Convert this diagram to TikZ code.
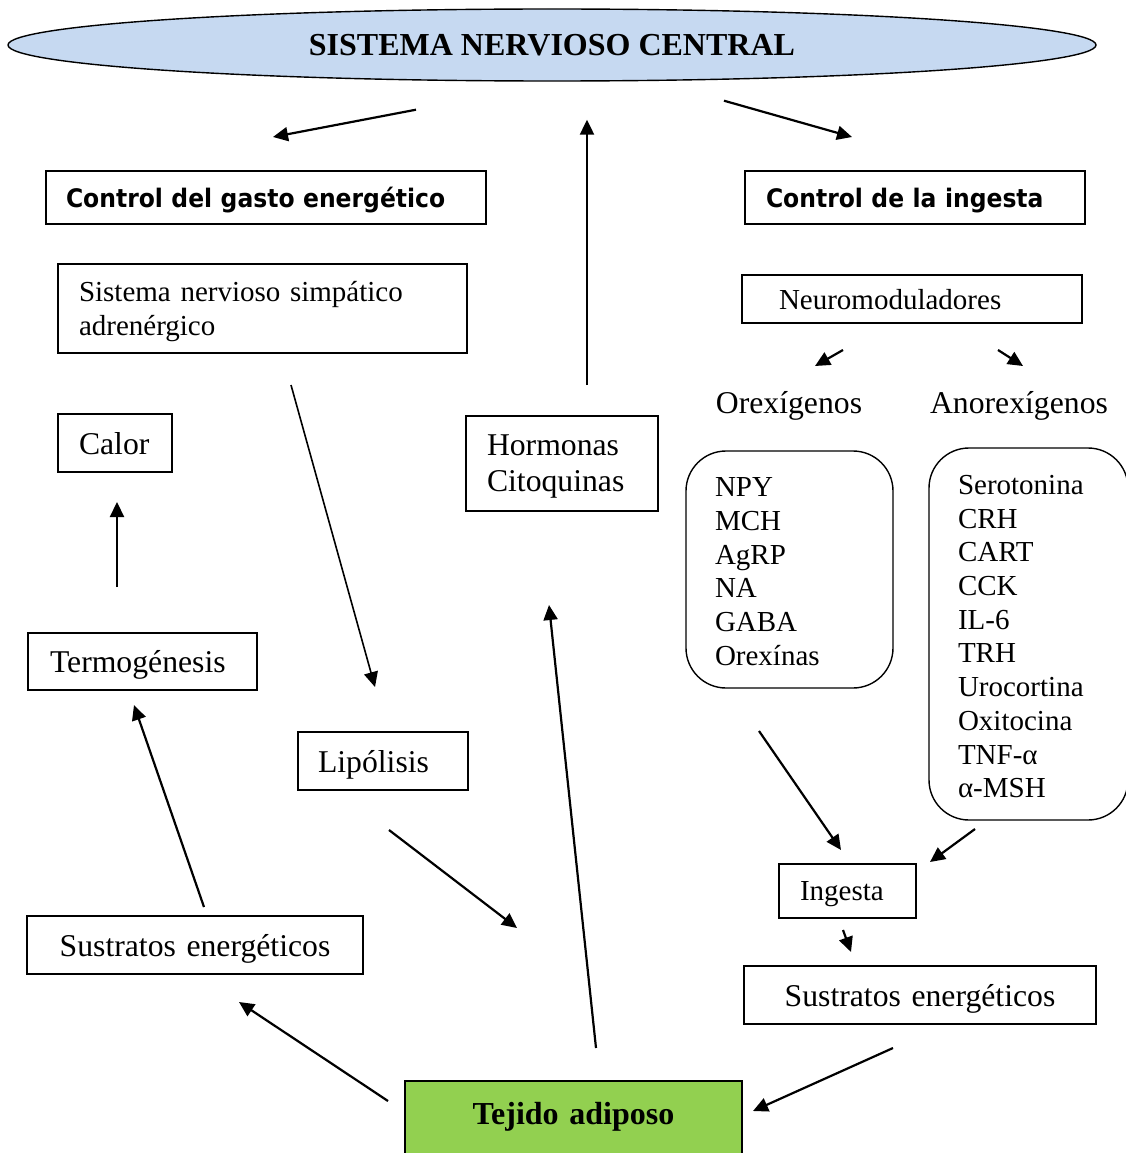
\documentclass[tikz,border=0pt]{standalone}
\usepackage{fontspec}
\setmainfont{Liberation Serif}
\newfontfamily\ctrlfont[FakeStretch=0.92]{DejaVu Sans}
\usepackage{tikz}
\usetikzlibrary{shapes.geometric,arrows.meta,calc}
\definecolor{sncblue}{RGB}{198,217,241}
\definecolor{adipgreen}{RGB}{146,208,80}
\newcommand{\normtext}{\fontsize{29pt}{33.7pt}\selectfont}
\newcommand{\bigtext}{\fontsize{31.7pt}{36.5pt}\selectfont}

\begin{document}
\begin{tikzpicture}[x=1pt,y=-1pt,
    box/.style={draw, line width=1.4pt, anchor=north west, align=left, outer sep=0pt, inner ysep=0pt},
    oneline/.style={box, text depth=0pt},
    roundbox/.style={box, rounded corners=40pt},
    arr/.style={line width=2.2pt, -{Triangle[length=15pt,width=14pt]}}]
  \useasboundingbox (0,0) rectangle (1126,1153);
  \node[ellipse, draw, line width=1.4pt, fill=sncblue, minimum width=1088pt, minimum height=72pt,
        inner sep=0pt, font=\fontsize{32pt}{36pt}\selectfont\bfseries] (snc) at (552,45) {SISTEMA NERVIOSO CENTRAL};
  \node[oneline, inner xsep=20pt, text width=400pt, minimum height=53pt, font=\ctrlfont\bfseries\fontsize{25.5pt}{29pt}\selectfont] (gasto) at (46,171) {Control del gasto energético};
  \node[oneline, inner xsep=21pt, text width=298pt, minimum height=53pt, font=\ctrlfont\bfseries\fontsize{25.5pt}{29pt}\selectfont] (ingh) at (745,171) {Control de la ingesta};
  \node[box, inner xsep=21pt, text width=367pt, minimum height=89pt, text depth=34pt, font=\normtext] (sns) at (58,264) {Sistema nervioso simpático\\adrenérgico};
  \node[oneline, inner xsep=21pt, text width=72pt, minimum height=58pt, font=\bigtext] (calor) at (58,414) {Calor};
  \node[box, inner xsep=21pt, text width=150pt, minimum height=95pt, text depth=37.5pt, font=\bigtext] (horm) at (466,416) {Hormonas\\Citoquinas};
  \node[oneline, inner xsep=22pt, text width=185pt, minimum height=57pt, font=\bigtext] (termo) at (28,633) {Termogénesis};
  \node[oneline, inner xsep=20pt, text width=130pt, minimum height=58pt, font=\bigtext] (lipo) at (298,732) {Lipólisis};
  \node[oneline, inner xsep=10pt, text width=316pt, minimum height=58pt, align=center, font=\bigtext] (sustL) at (27,916) {Sustratos energéticos};
  \node[box, inner xsep=10pt, text width=317pt, minimum height=90pt, align=center, fill=adipgreen,
        font=\fontsize{32pt}{36pt}\selectfont\bfseries] (tejido) at (405,1081) {\raisebox{25pt}{Tejido adiposo}};
  \node[oneline, inner xsep=37pt, text width=266pt, minimum height=48pt, font=\normtext] (neuro) at (742,275) {Neuromoduladores};
  \node[font=\bigtext] (orexL) at (789,406) {Orexígenos};
  \node[font=\bigtext] (anorexL) at (1019,406) {Anorexígenos};
  \node[roundbox, inner xsep=29pt, text width=149pt, minimum height=237pt, text depth=164.5pt, font=\normtext] (orex) at (686,451)
       {NPY\\MCH\\AgRP\\NA\\GABA\\Orexínas};
  \node[roundbox, inner xsep=29pt, text width=141pt, minimum height=372pt, text depth=298.3pt, font=\normtext] (anorex) at (929,448)
       {Serotonina\\CRH\\CART\\CCK\\IL-6\\TRH\\Urocortina\\Oxitocina\\TNF-α\\α-MSH};
  \node[oneline, inner xsep=21pt, text width=95pt, minimum height=54pt, font=\normtext] (ingB) at (779,864) {Ingesta};
  \node[oneline, inner xsep=10pt, text width=332pt, minimum height=58pt, align=center, font=\bigtext] (sustR) at (744,966) {Sustratos energéticos};
  \draw[arr] ($(snc.south)+(-136,28)$) -- ($(gasto.north)+(7,-34)$);
  \draw[arr] ($(horm.north)+(25,-31)$) -- ($(snc.south)+(35,38)$);
  \draw[arr] ($(snc.south)+(172,19)$) -- ($(ingh.north)+(-63,-34)$);
  \draw[arr, line width=1.6pt] ($(sns.south)+(28.5,32)$) -- ($(lipo.north)+(-8,-45)$);
  \draw[arr] ($(termo.north)+(-25.5,-46)$) -- ($(calor.south)+(2,30)$);
  \draw[arr] ($(sustL.north)+(9,-9)$) -- ($(termo.south)+(-8.5,15)$);
  \draw[arr] ($(lipo.south)+(6,40)$) -- ($(tejido.north)+(-56.5,-153)$);
  \draw[arr] ($(tejido.north)+(22.5,-33)$) -- ($(horm.south)+(-13,94)$);
  \draw[arr] ($(tejido.north west)+(-17,20)$) -- ($(sustL.south)+(44,28)$);
  \draw[arr] ($(sustR.south)+(-27,24)$) -- ($(tejido.north east)+(11,30)$);
  \draw[arr] ($(neuro.south)+(-69,27)$) -- ($(orexL)+(26,-40)$);
  \draw[arr] ($(neuro.south)+(86,27)$) -- ($(anorexL)+(4,-40)$);
  \draw[arr] ($(orex.south)+(-30.5,43)$) -- ($(ingB.north)+(-6.5,-14)$);
  \draw[arr] ($(anorex.south)+(-53.5,9)$) -- ($(ingB.north east)+(14,-2)$);
  \draw[arr] ($(ingB.south)+(-4.5,12)$) -- ($(sustR.north)+(-69,-14)$);
\end{tikzpicture}
\end{document}
